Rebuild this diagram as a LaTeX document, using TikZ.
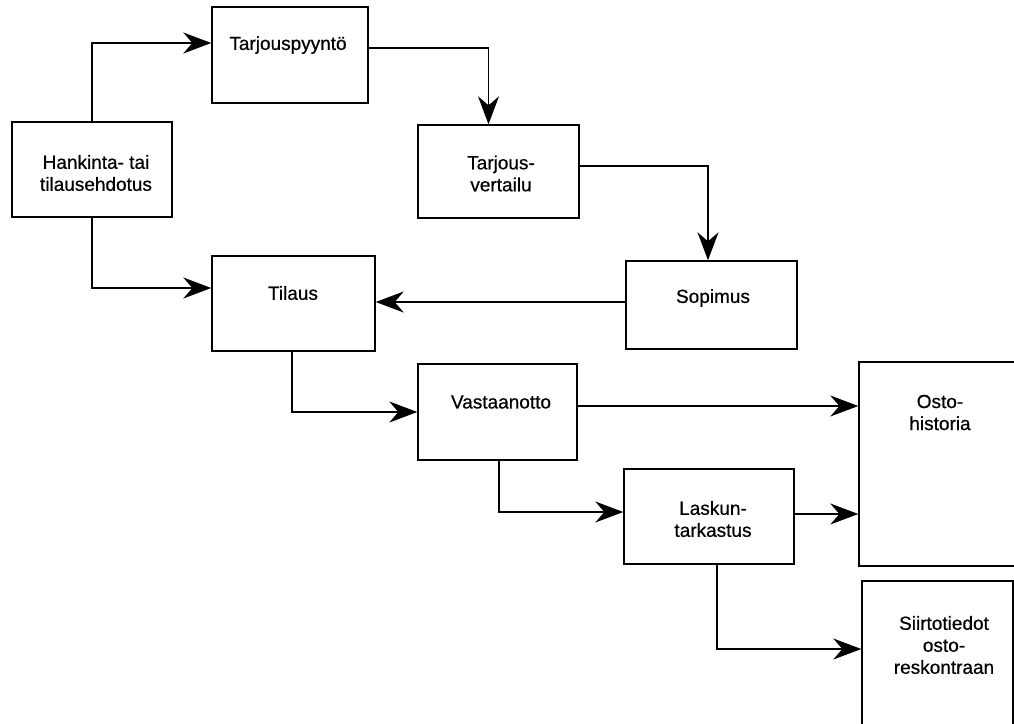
\documentclass[tikz,border=0pt]{standalone}
\usepackage{fontspec}
\setmainfont{Liberation Sans}
\newfontfamily\boxfont[FakeBold=0.6]{Liberation Sans}
\usetikzlibrary{arrows.meta}

\begin{document}
\begin{tikzpicture}[x=1pt, y=-1pt,
		box/.style={draw, line width=1.4pt, inner sep=0pt},
		txt/.style={align=center, inner sep=0pt, font=\boxfont\fontsize{19}{22}\selectfont},
		flow/.style={-{Stealth[length=28pt, width=21pt, inset=9pt]}, line width=1.3pt}]
			\useasboundingbox (0,0) rectangle (1014,723);
			% boxes: name/x/y/width/height
			\foreach \n/\x/\y/\w/\h in {hank/92/169.5/160/95, tpy/290/55/156/96, tv/498.5/171.5/161/93, sop/711.5/305/171/88, til/293.5/303.5/163/95, vast/497.5/412/159/96, lask/709/516.5/170/95, osto/945/464/172/204, siir/937.5/660/151/158}
				\node[box, minimum width=\w pt, minimum height=\h pt] (\n) at (\x,\y) {};
			\node[txt] (hankT) at (96,173) {Hankinta- tai\\tilausehdotus};
			\node[txt] (tpyT) at (288,45) {Tarjouspyyntö};
			\node[txt] (tvT) at (501,173.5) {Tarjous-\\vertailu};
			\node[txt] (sopT) at (713,298) {Sopimus};
			\node[txt] (tilT) at (293,293) {Tilaus};
			\node[txt] (vastT) at (501,402) {Vastaanotto};
			\node[txt] (laskT) at (713,519) {Laskun-\\tarkastus};
			\node[txt] (ostoT) at (940,412.5) {Osto-\\historia};
			\node[txt] (siirT) at (944,645) {Siirtotiedot\\osto-\\reskontraan};
			% connectors
			\draw[flow] (hank.north) |- ([yshift=12pt]tpy.west);
			\draw[flow] ([yshift=7pt]tpy.east) -| ([xshift=-10pt]tv.north);
			\draw[flow] ([yshift=5.5pt]tv.east) -| ([xshift=-3.5pt]sop.north);
			\draw[flow] ([yshift=3pt]sop.west) -- ([yshift=3pt]sop.west -| til.east);
			\draw[flow] (hank.south) |- ([yshift=15.5pt]til.west);
			\draw[flow] ([xshift=-1.5pt]til.south) |- (vast.west);
			\draw[flow] ([yshift=6pt]vast.east) -- ([yshift=6pt]vast.east -| osto.west);
			\draw[flow] ([xshift=1.5pt]vast.south) |- ([yshift=4.5pt]lask.west);
			\draw[flow] ([yshift=2.5pt]lask.east) -- ([yshift=2.5pt]lask.east -| osto.west);
			\draw[flow] ([xshift=8pt]lask.south) |- (siir.west |- 0,649);
		\end{tikzpicture}
\end{document}
